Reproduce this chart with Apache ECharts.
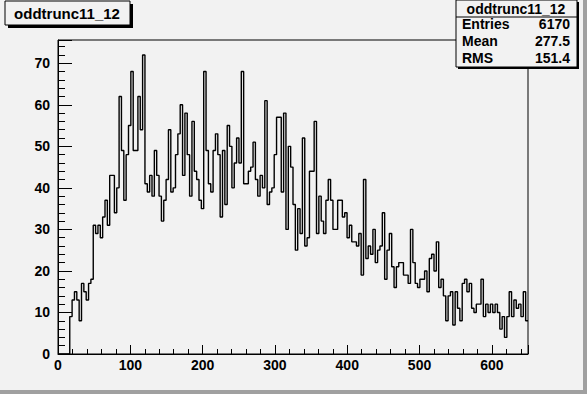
<!DOCTYPE html>
<html>
<head>
<meta charset="utf-8">
<title>oddtrunc11_12</title>
<script src="https://cdn.jsdelivr.net/npm/echarts@6/dist/echarts.min.js"></script>
<style>
  html, body { margin: 0; padding: 0; background: #f2f2f2; }
  #chart { width: 587px; height: 394px; }
</style>
</head>
<body>
<div id="chart"></div>
<script>
// histogram: 200 bins from 0 to 650
var histName = 'oddtrunc11_12';
var xMin = 0;
var xMax = 650;
var counts = [
  0, 0, 0, 0, 0, 9, 13, 15, 13, 8,
  17, 15, 13, 17, 18, 31, 29, 31, 28, 33,
  37, 31, 43, 43, 34, 40, 62, 49, 37, 48,
  55, 68, 49, 49, 62, 54, 72, 41, 39, 43,
  38, 49, 43, 38, 32, 37, 42, 54, 39, 40,
  48, 53, 60, 43, 58, 48, 38, 56, 44, 42,
  37, 35, 68, 49, 41, 39, 49, 53, 48, 33,
  49, 36, 55, 50, 40, 46, 52, 46, 68, 41,
  41, 44, 45, 51, 42, 38, 43, 40, 61, 36,
  39, 40, 48, 57, 57, 39, 58, 30, 50, 45,
  36, 25, 35, 29, 52, 26, 28, 44, 44, 56,
  29, 38, 32, 29, 37, 42, 37, 30, 30, 37,
  37, 33, 34, 28, 31, 27, 27, 26, 29, 19,
  42, 23, 26, 24, 30, 22, 25, 26, 34, 18,
  25, 29, 21, 16, 21, 22, 22, 19, 19, 17,
  30, 22, 17, 16, 18, 18, 20, 15, 23, 24,
  20, 27, 16, 18, 14, 8, 14, 15, 7, 15,
  11, 8, 17, 18, 15, 17, 11, 10, 12, 12,
  18, 9, 12, 10, 12, 10, 12, 10, 6, 9,
  4, 9, 15, 9, 13, 11, 12, 9, 15, 8
];
var statLabels = ['Entries', 'Mean', 'RMS'];
var statValues = ['6170', '277.5', '151.4'];

var binWidth = (xMax - xMin) / counts.length;
var yMax = Math.max.apply(null, counts) * 1.05;

// step outline: left edge of every bin, plus the closing edge
var edges = counts.map(function (v, i) { return [xMin + i * binWidth, v]; });
edges.push([xMax, counts[counts.length - 1]]);

var chart = echarts.init(document.getElementById('chart'), null, { renderer: 'svg' });

var fam = '"Liberation Sans", Arial, sans-serif';
var boldFont = 'bold 14px ' + fam;

function statRow(i, y) {
  return [
    { type: 'text', x: 462, y: y, style: { text: statLabels[i], font: boldFont, fill: '#000', align: 'left', verticalAlign: 'middle' } },
    { type: 'text', x: 570, y: y, style: { text: statValues[i], font: boldFont, fill: '#000', align: 'right', verticalAlign: 'middle' } }
  ];
}

var option = {
  backgroundColor: '#f2f2f2',
  animation: false,
  grid: {
    left: 58, top: 40, width: 470, height: 314,
    show: true, borderColor: '#000', borderWidth: 1, backgroundColor: 'transparent'
  },
  xAxis: {
    type: 'value', min: xMin, max: xMax, interval: 100,
    axisLine: { lineStyle: { color: '#000', width: 1 } },
    axisTick: { inside: true, length: 9, lineStyle: { color: '#000' } },
    minorTick: { show: true, splitNumber: 5, length: 5, lineStyle: { color: '#000' } },
    splitLine: { show: false },
    axisLabel: {
      margin: 4, color: '#000', fontSize: 14, fontWeight: 'bold', fontFamily: fam,
      showMaxLabel: false,
      formatter: function (v) { return v % 100 === 0 ? String(v) : ''; }
    }
  },
  yAxis: {
    type: 'value', min: 0, max: yMax, interval: 10,
    axisLine: { show: true, lineStyle: { color: '#000', width: 1 } },
    axisTick: { show: true, inside: true, length: 14, lineStyle: { color: '#000' } },
    minorTick: { show: true, splitNumber: 5, length: 7, lineStyle: { color: '#000' } },
    splitLine: { show: false },
    axisLabel: {
      margin: 8, color: '#000', fontSize: 14, fontWeight: 'bold', fontFamily: fam,
      showMaxLabel: false,
      formatter: function (v) { return v % 10 === 0 ? String(v) : ''; }
    }
  },
  series: [{
    type: 'line',
    step: 'end',
    data: edges,
    symbol: 'none',
    lineStyle: { color: '#000', width: 1.4 },
    silent: true
  }],
  graphic: [
    // canvas bevel
    { type: 'rect', shape: { x: 583, y: 0, width: 4, height: 394 }, style: { fill: '#a0a0a0' } },
    { type: 'rect', shape: { x: 0, y: 390, width: 587, height: 4 }, style: { fill: '#a0a0a0' } },
    // title box
    { type: 'rect', shape: { x: 8, y: 4, width: 125, height: 24 }, style: { fill: '#000' } },
    { type: 'rect', shape: { x: 5, y: 1, width: 125, height: 24 }, style: { fill: '#f2f2f2', stroke: '#000', lineWidth: 1 } },
    { type: 'text', x: 67, y: 13, style: { text: histName, font: 'bold 15px ' + fam, fill: '#000', align: 'center', verticalAlign: 'middle' } },
    // stats box
    { type: 'rect', shape: { x: 458, y: 2, width: 121, height: 67 }, style: { fill: '#000' } },
    { type: 'rect', shape: { x: 456, y: 0, width: 121, height: 67 }, style: { fill: '#f2f2f2', stroke: '#000', lineWidth: 1 } },
    { type: 'line', shape: { x1: 456, y1: 17, x2: 577, y2: 17 }, style: { stroke: '#000', lineWidth: 1 } },
    { type: 'text', x: 516, y: 9, style: { text: histName, font: boldFont, fill: '#000', align: 'center', verticalAlign: 'middle' } }
  ].concat(statRow(0, 24), statRow(1, 41), statRow(2, 58))
};

chart.setOption(option);
</script>
</body>
</html>
